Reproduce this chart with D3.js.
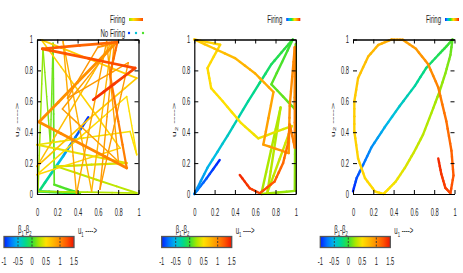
<!DOCTYPE html>
<html><head><meta charset="utf-8">
<script src="https://cdn.jsdelivr.net/npm/d3@7"></script>
<style>
body{margin:0;background:#fff}
svg{display:block}
text{font-family:"Liberation Sans",Arial,sans-serif;fill:#222}
</style>
</head><body><svg id="c" width="463" height="273"></svg>
<script>
// ---------- data ----------
const xTicks = [0, 0.2, 0.4, 0.6, 0.8, 1];
const yTicks = [0, 0.2, 0.4, 0.6, 0.8, 1];
const cbTicks = [-1, -0.5, 0, 0.5, 1, 1.5];
const cbDashes = [-0.5, 0, 1];
const cbDomain = [-1, 1.5];
const legendRange1 = [0.15, 1.3];
const legendRange23 = [-1, 1.5];
const noFiringValues = [-0.9, -0.45, 0.05];

// trajectory: [u1, u2, beta1-beta2, thickness(0..1)]
const traj1 = [
  [0.505,0.496,-1.0,0.8],[0.257,0.244,-0.55,0.8],[0.020,0.017,-0.15,0.8],
  [0.422,0.004,0.0,0.9],[0.17,0.06,0.08,0.5],[0.158,0.976,0.12,0.2],
  [0.132,0.319,0.15,0.2],[0.059,0.944,0.2,0.2],[0.010,0.017,0.24,0.3],
  [0.983,0.006,0.3,0.4],[0.191,0.179,0.34,0.6],[0.884,0.200,0.4,0.7],
  [0.000,0.319,0.44,0.3],[0.917,0.405,0.48,0.3],[0.983,0.254,0.5,0.2],
  [0.884,0.631,0.52,0.2],[0.000,0.125,0.55,0.3],[0.818,0.297,0.58,0.2],
  [0.043,0.998,0.6,0.4],[0.983,0.750,0.63,0.4],[0.521,0.491,0.66,0.4],
  [0.000,0.179,0.7,0.3],[0.736,0.983,0.74,0.2],[0.538,0.017,0.78,0.2],
  [0.257,0.987,0.82,0.2],[0.389,0.000,0.85,0.2],[0.686,0.987,0.88,0.2],
  [0.802,0.211,0.9,0.2],[0.250,0.550,0.9,0.2],[0.760,0.970,0.91,0.2],
  [0.620,0.030,0.92,0.2],[0.900,0.850,0.92,0.2],[0.300,0.620,0.94,0.2],
  [0.600,0.950,0.95,0.2],[0.780,0.980,0.96,0.9],[0.020,0.466,0.99,0.9],
  [0.884,0.168,1.05,0.9],[0.719,0.772,1.1,0.3],[0.792,0.983,1.15,0.9],
  [0.053,0.940,1.22,0.9],[0.967,0.815,1.3,0.9],[0.554,0.610,1.4,0.9]
];
const traj2 = [
  [0.25,0.22,-1.0],[0.12,0.10,-0.85],[0.0,0.0,-0.7],[0.13,0.17,-0.55],
  [0.33,0.38,-0.4],[0.53,0.60,-0.28],[0.76,0.84,-0.12],[0.89,0.94,-0.04],
  [0.97,1.0,0.0],[0.76,0.71,0.08],[0.99,0.55,0.12],[1.0,0.97,0.16],
  [0.99,0.02,0.2],[0.66,0.0,0.25],[0.85,0.56,0.28],[0.72,0.01,0.3],
  [0.96,0.44,0.38],[0.63,0.36,0.45],[0.46,0.46,0.48],[0.28,0.60,0.5],
  [0.166,0.685,0.52],[0.13,0.815,0.54],[0.255,0.966,0.56],[0.0,1.0,0.62],
  [0.40,0.88,0.75],[0.60,0.78,0.8],[0.78,0.66,0.85],[0.68,0.32,0.9],
  [0.93,0.265,0.95],[0.94,0.57,0.98],[0.99,0.95,1.02],[0.99,0.30,1.05],
  [0.94,0.45,1.08],[0.924,0.33,1.1],[0.875,0.2,1.15],[0.79,0.08,1.22],
  [0.645,0.005,1.3],[0.547,0.037,1.35],[0.448,0.123,1.42]
];
const traj3 = [
  [0.0,0.017,-1.0],[0.036,0.103,-0.88],[0.1,0.19,-0.78],[0.18,0.3,-0.68],
  [0.31,0.43,-0.55],[0.46,0.57,-0.42],[0.61,0.7,-0.3],[0.72,0.815,-0.2],
  [0.84,0.9,-0.1],[0.92,0.955,-0.02],[0.98,1.0,0.06],[0.96,0.9,0.13],
  [0.91,0.78,0.18],[0.853,0.664,0.22],[0.77,0.52,0.26],[0.69,0.384,0.3],
  [0.6,0.27,0.35],[0.51,0.168,0.4],[0.42,0.08,0.45],[0.346,0.03,0.49],
  [0.30,0.0,0.52],[0.216,0.017,0.54],[0.118,0.103,0.56],[0.05,0.23,0.58],
  [0.013,0.405,0.6],[0.013,0.6,0.63],[0.05,0.75,0.67],[0.15,0.89,0.73],
  [0.25,0.965,0.78],[0.38,1.0,0.83],[0.49,0.998,0.87],[0.62,0.94,0.92],
  [0.74,0.84,0.98],[0.84,0.69,1.05],[0.92,0.47,1.12],[0.97,0.28,1.18],
  [0.99,0.12,1.23],[0.96,0.005,1.28],[0.91,0.04,1.33],[0.87,0.13,1.37],
  [0.84,0.23,1.42]
];

// ---------- drawing ----------
const svg = d3.select('#c');
const palStops = [-1,-0.75,-0.5,-0.25,0,0.25,0.5,0.75,1,1.25,1.5];
const palCols = ['#0020ff','#0078ff','#00bce6','#00d890','#34e034','#a8e800','#ffe000','#ffb800','#ff8c00','#ff5400','#ee1400'];
const color = d3.scaleLinear().domain(palStops).range(palCols).interpolate(d3.interpolateRgb).clamp(true);

const defs = svg.append('defs');
function makeGrad(id, range){
  const gr = defs.append('linearGradient').attr('id', id).attr('x1','0%').attr('x2','100%').attr('y1','0%').attr('y2','0%');
  const n = 20;
  for(let i=0;i<=n;i++){
    const v = range[0] + (range[1]-range[0])*i/n;
    gr.append('stop').attr('offset', (i/n*100)+'%').attr('stop-color', color(v));
  }
}
makeGrad('cbGrad', cbDomain);
makeGrad('leg1', legendRange1);
makeGrad('leg23', legendRange23);

const SX = 0.55;
function label(g, x, y, str, anchor, size){
  return g.append('text').attr('transform', `translate(${x},${y}) scale(${SX},1)`)
    .attr('text-anchor', anchor).attr('font-size', size || 10.5).text(str);
}

const TOP = 39.5, BOTTOM = 194, W = 101.5;
const panels = [
  {left:37, data:traj1, thick:true, sides:true, noFiring:true, leg:'leg1', cbLeft:4},
  {left:194.3, data:traj2, thick:false, sides:true, noFiring:false, leg:'leg23', cbLeft:161.7},
  {left:353, data:traj3, thick:false, sides:false, noFiring:false, leg:'leg23', cbLeft:320.3}
];
const widthScale = d3.scaleLinear().domain([0,1]).range([1.0,3.0]);

panels.forEach(p => {
  const x = d3.scaleLinear().domain([0,1]).range([p.left, p.left + W]);
  const y = d3.scaleLinear().domain([0,1]).range([BOTTOM, TOP]);
  const g = svg.append('g');

  // trajectory segments coloured by value
  const lg = g.append('g').attr('stroke-linecap','round');
  const d = p.data;
  for(let i=0;i<d.length-1;i++){
    const a = d[i], b = d[i+1];
    const k = 4;
    const sw = p.thick ? widthScale((a[3]+b[3])/2) : 2.4;
    for(let j=0;j<k;j++){
      const t0 = j/k, t1 = (j+1)/k, tm = (j+0.5)/k;
      lg.append('line')
        .attr('x1', x(a[0]+(b[0]-a[0])*t0)).attr('y1', y(a[1]+(b[1]-a[1])*t0))
        .attr('x2', x(a[0]+(b[0]-a[0])*t1)).attr('y2', y(a[1]+(b[1]-a[1])*t1))
        .attr('stroke', color(a[2]+(b[2]-a[2])*tm))
        .attr('stroke-width', sw);
    }
  }

  // axes
  const fmt = v => String(v);
  const bx = g.append('g').attr('transform', `translate(0,${BOTTOM})`)
    .call(d3.axisBottom(x).tickValues(xTicks).tickSize(-4).tickSizeOuter(0).tickPadding(15).tickFormat(fmt));
  const tx = g.append('g').attr('transform', `translate(0,${TOP})`)
    .call(d3.axisTop(x).tickValues(xTicks).tickSize(-4).tickSizeOuter(0).tickFormat(''));
  const ly = g.append('g').attr('transform', `translate(${p.left},0)`)
    .call(d3.axisLeft(y).tickValues(yTicks).tickSize(-4).tickSizeOuter(0).tickPadding(4).tickFormat(fmt));
  const ry = g.append('g').attr('transform', `translate(${p.left+W},0)`)
    .call(d3.axisRight(y).tickValues(yTicks).tickSize(-4).tickSizeOuter(0).tickFormat(''));
  [bx,tx,ly,ry].forEach(a => {
    a.attr('color','#000');
    a.selectAll('line').attr('stroke-width',1);
    a.select('.domain').attr('stroke-width',1.2);
    a.selectAll('text').attr('font-family','"Liberation Sans",Arial,sans-serif').attr('font-size',10.5).attr('fill','#222');
  });
  tx.select('.domain').attr('stroke-width',1.6);
  if(!p.sides){ ly.select('.domain').remove(); ry.select('.domain').remove(); }
  bx.selectAll('text').each(function(){
    const t = d3.select(this); const yy = +t.attr('y');
    t.attr('transform', `translate(0,${yy}) scale(${SX},1)`).attr('y',0);
  });
  ly.selectAll('text').each(function(){
    const t = d3.select(this); const xx = +t.attr('x');
    t.attr('transform', `translate(${xx},0) scale(${SX},1)`).attr('x',0);
  });

  // y axis label (rotated)
  const yl = g.append('text').attr('transform', `translate(${p.left-18},120) rotate(-90) scale(1,${SX})`)
    .attr('text-anchor','middle').attr('font-size',11);
  yl.append('tspan').text('u');
  yl.append('tspan').text('2').attr('font-size',7.5).attr('dy',2.5);
  yl.append('tspan').text(' ---->').attr('dy',-2.5);

  // legend
  label(g, p.left+88, 23, 'Firing', 'end', 11);
  g.append('rect').attr('x', p.left+92).attr('y', 18).attr('width', 14).attr('height', 3)
    .attr('fill', `url(#${p.leg})`);
  if(p.noFiring){
    label(g, p.left+88, 37, 'No Firing', 'end', 11);
    noFiringValues.forEach((v,i) => {
      g.append('circle').attr('cx', p.left+92+i*7).attr('cy', 33).attr('r', 1.2).attr('fill', color(v));
    });
  }

  // colour box
  const cx = d3.scaleLinear().domain(cbDomain).range([p.cbLeft, p.cbLeft+70]);
  g.append('rect').attr('x', cx(cbDomain[0])).attr('y', 236.5).attr('width', cx(cbDomain[1])-cx(cbDomain[0])).attr('height', 11)
    .attr('fill','url(#cbGrad)').attr('stroke','#555').attr('stroke-width',1.3);
  cbDashes.forEach(v => {
    g.append('line').attr('x1', cx(v)).attr('x2', cx(v)).attr('y1', 237.5).attr('y2', 246.5)
      .attr('stroke','#333').attr('stroke-width',0.9).attr('stroke-dasharray','2,1.5');
  });
  cbTicks.forEach(v => label(g, cx(v), 265, String(v), 'middle', 10.5));

  // colour-box label β1-β2
  const bl = g.append('text').attr('transform', `translate(${p.cbLeft+14},233) scale(${SX},1)`).attr('font-size',11);
  bl.append('tspan').text('β');
  bl.append('tspan').text('1').attr('font-size',7.5).attr('dy',2.5);
  bl.append('tspan').text('-β').attr('dy',-2.5);
  bl.append('tspan').text('2').attr('font-size',7.5).attr('dy',2.5);

  // x axis label
  const xl = g.append('text').attr('transform', `translate(${p.cbLeft+74},234) scale(${SX},1)`).attr('font-size',11);
  xl.append('tspan').text('u');
  xl.append('tspan').text('1').attr('font-size',7.5).attr('dy',2.5);
  xl.append('tspan').text(' ---->').attr('dy',-2.5);
});
</script>
</body></html>
